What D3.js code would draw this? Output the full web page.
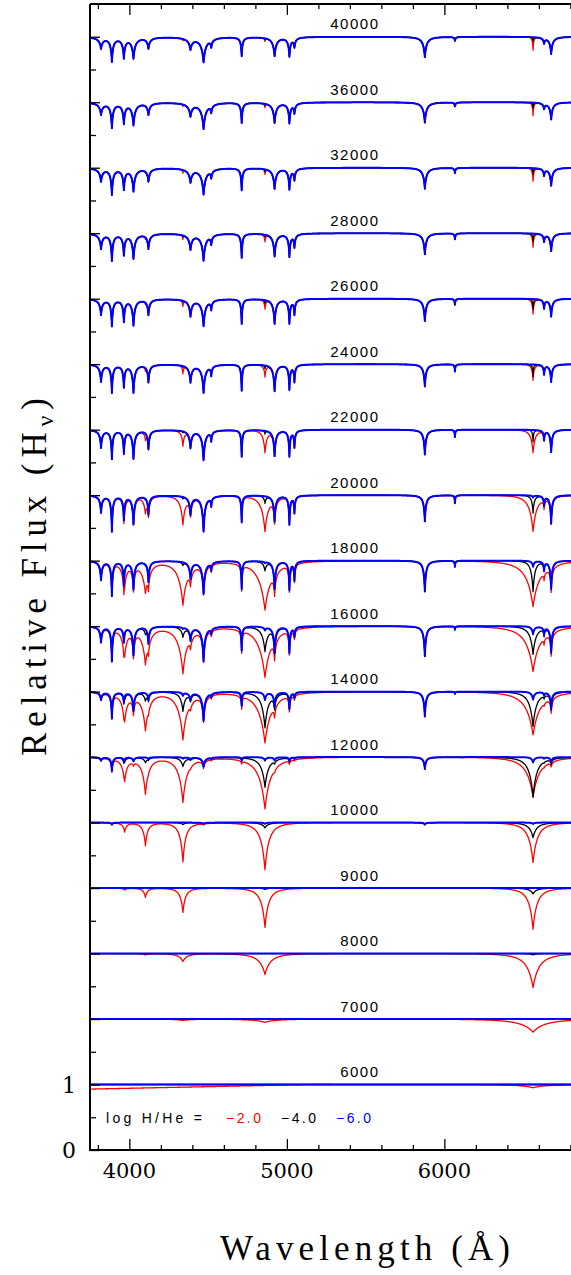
<!DOCTYPE html>
<html><head><meta charset="utf-8">
<script src="https://cdn.jsdelivr.net/npm/d3@7"></script>
<style>body{margin:0;background:#fff} svg{display:block}</style>
</head><body><svg id="c" width="571" height="1275"></svg>
<script>
// ---------------- DATA ----------------
const temperatures = [40000,36000,32000,28000,26000,24000,22000,20000,18000,16000,14000,12000,10000,9000,8000,7000,6000];
const compositions = ["-2.0","-4.0","-6.0"];
// He I line positions (Angstrom) and base widths (Angstrom)
const heLambda = [3820,3889,3965,4026,4121,4388,4471,4520,4713,4922,5016,5048,5876,6067,6633,6678];
const heWidth  = [14,10,10,14,12,16,18,8,7,14,9,8,14,5,8,12];
const heWidthScale = [1.5,1.45,1.4,1.3,1.2,1.1,1.05,1,1,1,1,1,1,1,1,1,1];
// He line depths (relative flux) per temperature
const heDepth = [
 [0.17,0.37,0.31,0.32,0.17,0.18,0.38,0.12,0.29,0.29,0.29,0.14,0.31,0.06,0.09,0.26],
 [0.18,0.38,0.31,0.34,0.18,0.20,0.40,0.12,0.31,0.31,0.31,0.15,0.31,0.06,0.09,0.26],
 [0.20,0.40,0.32,0.35,0.20,0.21,0.40,0.12,0.34,0.32,0.32,0.17,0.32,0.08,0.11,0.27],
 [0.23,0.41,0.32,0.38,0.23,0.24,0.41,0.14,0.37,0.35,0.35,0.20,0.32,0.09,0.12,0.27],
 [0.24,0.41,0.34,0.40,0.24,0.26,0.41,0.14,0.38,0.38,0.37,0.23,0.34,0.09,0.14,0.27],
 [0.26,0.43,0.34,0.43,0.27,0.27,0.43,0.15,0.40,0.41,0.38,0.26,0.34,0.11,0.15,0.27],
 [0.27,0.44,0.35,0.44,0.29,0.27,0.46,0.15,0.41,0.40,0.40,0.26,0.38,0.11,0.15,0.34],
 [0.26,0.55,0.37,0.44,0.29,0.29,0.55,0.14,0.41,0.40,0.44,0.26,0.40,0.12,0.15,0.43],
 [0.29,0.53,0.37,0.43,0.32,0.27,0.50,0.12,0.43,0.43,0.44,0.29,0.47,0.09,0.14,0.43],
 [0.24,0.53,0.23,0.44,0.26,0.21,0.53,0.09,0.37,0.40,0.40,0.15,0.46,0.05,0.12,0.40],
 [0.12,0.40,0.15,0.29,0.12,0.12,0.44,0.05,0.21,0.23,0.26,0.08,0.38,0.03,0.05,0.26],
 [0.05,0.21,0.06,0.06,0.03,0.03,0.14,0.02,0.05,0.05,0.06,0.02,0.18,0,0.02,0.08],
 [0,0.03,0,0,0,0,0.02,0,0,0,0,0,0.03,0,0,0],
 [0,0,0,0,0,0,0,0,0,0,0,0,0,0,0,0],
 [0,0,0,0,0,0,0,0,0,0,0,0,0,0,0,0],
 [0,0,0,0,0,0,0,0,0,0,0,0,0,0,0,0],
 [0,0,0,0,0,0,0,0,0,0,0,0,0,0,0,0]
];
// Balmer lines: H-epsilon, H-delta, H-gamma, H-beta, H-alpha
const hLambda = [3970,4102,4340,4861,6563];
const hWidthFactor = [0.45,0.55,0.7,1,1.1];
// H depths per temperature, log H/He = -2.0 (red)
const hDepthM2 = [
 [0,0,0.03,0.05,0.20],[0,0,0.03,0.06,0.20],[0,0.02,0.05,0.08,0.20],[0,0.03,0.06,0.11,0.21],
 [0.02,0.03,0.09,0.14,0.23],[0.03,0.05,0.12,0.18,0.24],[0.06,0.11,0.23,0.34,0.35],[0.12,0.24,0.44,0.55,0.55],
 [0.27,0.46,0.67,0.75,0.70],[0.38,0.56,0.72,0.78,0.69],[0.40,0.58,0.73,0.78,0.66],[0.34,0.56,0.69,0.79,0.61],
 [0.14,0.35,0.60,0.72,0.61],[0.03,0.14,0.37,0.60,0.63],[0,0.02,0.12,0.32,0.52],[0,0,0.02,0.05,0.20],[0,0,0,0,0.05]
];
// log H/He = -4.0 (black)
const hDepthM4 = [
 [0,0,0,0.02,0.06],[0,0,0,0.02,0.08],[0,0,0,0.03,0.09],[0,0,0.02,0.03,0.12],
 [0,0,0.02,0.05,0.15],[0,0,0.02,0.05,0.18],[0,0,0.02,0.05,0.18],[0,0.02,0.03,0.11,0.27],
 [0,0.02,0.05,0.14,0.47],[0.02,0.08,0.15,0.38,0.43],[0.05,0.12,0.29,0.55,0.53],[0.05,0.08,0.14,0.46,0.61],
 [0,0,0.03,0.08,0.23],[0,0,0,0.02,0.09],[0,0,0,0,0.02],[0,0,0,0,0],[0,0,0,0,0]
];
// log H/He = -6.0 (blue)
const hDepthM6 = [
 [0,0,0,0,0],[0,0,0,0,0],[0,0,0,0,0],[0,0,0,0,0],[0,0,0,0,0],[0,0,0,0,0],[0,0,0,0,0],
 [0,0,0,0,0.03],[0,0,0,0.02,0.09],[0,0,0.02,0.05,0.12],[0,0,0.05,0.12,0.12],[0,0,0.02,0.05,0.08],
 [0,0,0,0.02,0.02],[0,0,0,0,0],[0,0,0,0,0],[0,0,0,0,0],[0,0,0,0,0]
];
// H line widths (Angstrom) per temperature
const hWidthM2 = [10,10,12,13,15,18,33,60,110,112,115,105,72,65,100,200,200];
const hWidthM4 = [8,8,8,8,8,8,10,20,30,48,58,62,60,55,55,55,55];
const hWidthM6 = [10,10,10,10,10,10,10,14,18,22,25,25,25,25,25,25,25];
// blue-end continuum depression of the 6000 K, log H/He=-2 model
const cont6000Lambda = [3750,5150];
const cont6000Offset = [-0.07,0];
const xTickMajor = [4000,5000,6000];
const yTickLabels = [0,1];

// ---------------- DRAWING ----------------
const svg = d3.select('#c');
const x = d3.scaleLinear().domain([3750,6830]).range([90,575.1]);
const y = d3.scaleLinear().domain([0,17.5]).range([1150,4]);

const comps = [
  {name:"-2.0", color:"#ff0000", sw:1.3, hD:hDepthM2, hW:hWidthM2},
  {name:"-4.0", color:"#000000", sw:1.3, hD:hDepthM4, hW:hWidthM4},
  {name:"-6.0", color:"#0000ff", sw:2.0, hD:hDepthM6, hW:hWidthM6}
];
const grid = d3.range(3750, 6831, 1);
const contScale = d3.scaleLinear().domain(cont6000Lambda).range(cont6000Offset).clamp(true);
const HE_P = 2, H_P = 3;

function spectrum(i, c, ci) {
  return grid.map(l => {
    let f = 1;
    heLambda.forEach((lc,k) => {
      const d = heDepth[i][k];
      if (d > 0) { const w = heWidth[k]*heWidthScale[i]; f *= 1 - d/Math.pow(1+Math.abs(l-lc)/w, HE_P); }
    });
    hLambda.forEach((lc,k) => {
      const d = c.hD[i][k];
      if (d > 0) { const w = c.hW[i]*hWidthFactor[k]; f *= 1 - d/Math.pow(1+Math.abs(l-lc)/w, H_P); }
    });
    if (ci === 0 && temperatures[i] === 6000) f += contScale(l);
    return [l, f + (temperatures.length - 1 - i)];
  });
}

const line = d3.line().x(d => x(d[0])).y(d => y(d[1]));
const plot = svg.append('g');
comps.forEach((c, ci) => {
  temperatures.forEach((t, i) => {
    plot.append('path').attr('d', line(spectrum(i, c, ci)))
      .attr('fill','none').attr('stroke', c.color).attr('stroke-width', c.sw)
      .attr('stroke-linejoin','round');
  });
});

// temperature labels
svg.append('g').selectAll('text').data(temperatures).join('text')
  .attr('x', 379.5).attr('y', (t,i) => y(temperatures.length - i) - 7.5)
  .attr('text-anchor','end')
  .style('font-family','"Liberation Sans", Arial, sans-serif').style('font-size','15px')
  .style('letter-spacing','1.5px')
  .text(t => t);

// axes frame
const ax = svg.append('g').attr('stroke','#000').attr('stroke-width',2).attr('fill','none');
ax.append('path').attr('d', `M${x(3750)},${y(17.5)}H${x(6830)}M${x(3750)},${y(17.5)}V${y(0)}H${x(6830)}`);

const xMinor = d3.range(3800, 6830, 200).filter(v => !xTickMajor.includes(v));
const yMajor = d3.range(0, 18, 1);
const yMinor = d3.range(0.5, 17.5, 1);
function tickAxis(gen, tr) {
  const g = svg.append('g').attr('transform', tr).call(gen);
  g.select('.domain').remove();
  g.selectAll('.tick line').attr('stroke','#000').attr('stroke-width',1.3);
  g.selectAll('.tick text').remove();
}
tickAxis(d3.axisTop(x).tickValues(xMinor).tickSize(5), `translate(0,${y(0)})`);
tickAxis(d3.axisTop(x).tickValues(xTickMajor).tickSize(11), `translate(0,${y(0)})`);
tickAxis(d3.axisBottom(x).tickValues(xMinor).tickSize(5), `translate(0,${y(17.5)})`);
tickAxis(d3.axisBottom(x).tickValues(xTickMajor).tickSize(11), `translate(0,${y(17.5)})`);
tickAxis(d3.axisRight(y).tickValues(yMajor).tickSize(10), `translate(${x(3750)},0)`);
tickAxis(d3.axisRight(y).tickValues(yMinor).tickSize(6), `translate(${x(3750)},0)`);

const serif = '"DejaVu Serif", serif';
svg.append('g').selectAll('text').data(xTickMajor).join('text')
  .attr('x', d => x(d)).attr('y', 1178).attr('text-anchor','middle')
  .style('font-family', serif).style('font-size','21px').text(d => d);
svg.append('g').selectAll('text').data(yTickLabels).join('text')
  .attr('x', 76).attr('y', d => y(d) + 8).attr('text-anchor','end')
  .style('font-family', serif).style('font-size','22px').text(d => d);

// axis titles
const titleFont = '"Liberation Serif", "Times New Roman", serif';
svg.append('text').attr('x', 220).attr('y', 1260)
  .attr('textLength', 290).attr('lengthAdjust','spacing')
  .style('font-family', titleFont).style('font-size','35px').text('Wavelength (Å)');
const yt = svg.append('text').attr('transform','translate(46,756) rotate(-90)')
  .attr('textLength', 358).attr('lengthAdjust','spacing')
  .style('font-family', titleFont).style('font-size','35px');
yt.append('tspan').text('Relative Flux (H');
yt.append('tspan').attr('dy', 7).style('font-size','24px').text('ν');
yt.append('tspan').attr('dy', -7).text(')');

// legend
const sans = '"Liberation Sans", Arial, sans-serif';
const leg = svg.append('g').style('font-family', sans).style('font-size','14px');
leg.append('text').attr('x',106).attr('y',1123).attr('textLength',96).attr('lengthAdjust','spacing').text('log H/He =');
const legX = [226, 281, 336];
comps.forEach((c, i) => {
  leg.append('text').attr('x', legX[i]).attr('y', 1123).attr('fill', c.color)
    .attr('textLength', 35).attr('lengthAdjust','spacing').text(c.name.replace('-', '\u2212'));
});
</script></body></html>
